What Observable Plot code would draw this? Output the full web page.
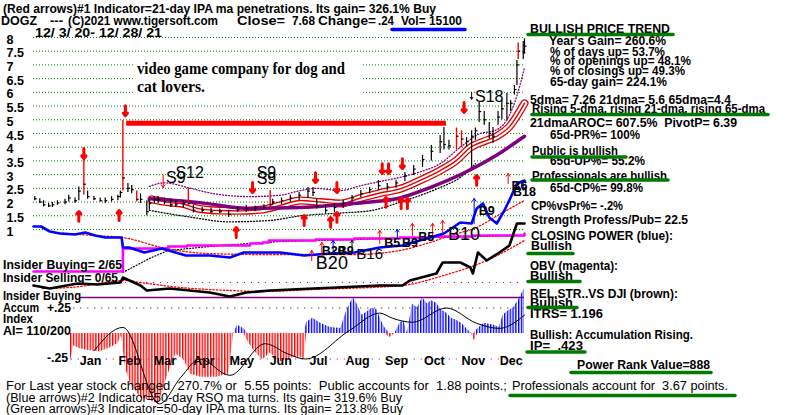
<!DOCTYPE html>
<html><head><meta charset="utf-8">
<script src="https://cdn.jsdelivr.net/npm/d3@7"></script>
<script src="https://cdn.jsdelivr.net/npm/@observablehq/plot@0.6"></script>
<style>
html,body{margin:0;padding:0;background:#fff;}
#chart{position:relative;width:800px;height:415px;overflow:hidden;background:#fff;}
#chart svg{position:absolute;left:0;top:0;overflow:visible;}
</style></head>
<body><div id="chart"></div>
<script>
// ---------------- DATA ----------------
const priceDates = ["2020-12-04","2020-12-08","2020-12-11","2020-12-15","2020-12-18","2020-12-22","2020-12-28","2020-12-31",
"2021-01-05","2021-01-08","2021-01-12","2021-01-15","2021-01-20","2021-01-25","2021-01-29","2021-02-03","2021-02-08","2021-02-10",
"2021-02-12","2021-02-16","2021-02-19","2021-02-23","2021-02-26","2021-03-03","2021-03-05","2021-03-09","2021-03-12","2021-03-17",
"2021-03-22","2021-03-26","2021-04-01","2021-04-05","2021-04-09","2021-04-16","2021-04-23","2021-04-30","2021-05-07","2021-05-14",
"2021-05-21","2021-05-28","2021-06-04","2021-06-09","2021-06-11","2021-06-18","2021-06-25","2021-07-02","2021-07-09","2021-07-13",
"2021-07-16","2021-07-23","2021-07-30","2021-08-06","2021-08-13","2021-08-20","2021-08-27","2021-09-03","2021-09-10","2021-09-17",
"2021-09-24","2021-10-01","2021-10-08","2021-10-15","2021-10-22","2021-10-25","2021-10-29","2021-11-04","2021-11-08","2021-11-12",
"2021-11-16","2021-11-19","2021-11-22","2021-11-26","2021-11-30","2021-12-03","2021-12-07","2021-12-10","2021-12-14","2021-12-17",
"2021-12-20","2021-12-22","2021-12-23","2021-12-27","2021-12-28"];
const priceLow = [2.05,1.95,1.82,1.8,1.8,1.88,1.9,2.0,
1.95,2.05,2.25,2.1,2.05,2.0,1.95,2.0,2.05,2.15,
2.4,2.35,2.3,2.0,1.95,1.5,1.7,1.95,1.95,1.9,
1.8,1.8,1.78,1.85,1.6,1.6,1.58,1.58,1.44,1.62,
1.62,1.65,1.7,1.8,1.88,1.9,2.0,2.06,2.13,2.2,
1.75,1.58,1.62,1.77,2.0,2.17,2.3,2.42,2.4,2.5,
2.75,2.97,3.26,3.5,3.77,3.9,3.9,3.9,4.0,4.0,
3.26,4.25,4.9,4.8,4.3,4.14,4.8,5.0,5.0,5.3,
5.9,6.25,7.2,7.2,7.4];
const priceHigh = [2.2,2.12,2.05,1.95,1.98,2.05,2.1,2.25,
2.15,2.55,3.63,2.4,2.2,2.15,2.15,2.2,2.25,2.4,
4.97,2.68,2.6,2.4,2.3,2.05,2.05,2.2,2.2,2.15,
2.1,2.05,2.05,2.5,1.88,1.8,1.78,1.75,1.7,1.8,
1.88,1.85,1.9,2.42,2.1,2.15,2.25,2.35,2.53,2.53,
2.1,1.9,1.95,2.06,2.24,2.42,2.53,2.79,2.68,2.8,
3.08,3.33,3.7,4.06,4.43,4.72,4.25,4.7,4.6,4.35,
4.6,4.7,5.63,5.3,4.9,4.72,5.3,5.7,5.96,5.7,
6.25,7.16,7.8,7.85,7.95];
const priceClose = [2.12,2.0,1.9,1.86,1.9,1.97,2.0,2.15,
2.05,2.4,2.65,2.2,2.12,2.05,2.05,2.1,2.2,2.35,
2.88,2.5,2.45,2.1,2.1,1.65,1.95,2.1,2.1,2.0,
1.9,1.9,1.95,1.95,1.7,1.7,1.65,1.65,1.55,1.72,
1.75,1.78,1.8,1.9,2.0,2.05,2.15,2.25,2.4,2.35,
1.85,1.7,1.8,1.95,2.15,2.3,2.45,2.6,2.55,2.7,
2.95,3.2,3.55,3.85,4.2,4.1,4.05,4.4,4.3,4.2,
4.4,4.6,5.3,5.0,4.5,4.4,5.1,5.4,5.6,5.6,
6.1,7.0,7.5,7.44,7.68];
const redBarDates = ["2021-01-12","2021-02-12","2021-02-23","2021-04-05","2021-06-09","2021-11-04","2021-11-08","2021-12-23"];

const priceTicks = [1,1.5,2,2.5,3,3.5,4,4.5,5,5.5,6,6.5,7,7.5,8];
const priceTickLabels = ["1","1.5","2","2.5","3","3.5","4","4.5","5","5.5","6","6.5","7","7.5","8"];

const ma21Dates = ["2021-03-07","2021-03-22","2021-03-30","2021-04-14","2021-04-30","2021-05-16","2021-06-01","2021-06-17","2021-07-03","2021-07-19","2021-08-04","2021-08-20","2021-09-04","2021-09-20","2021-10-06","2021-10-22","2021-11-04","2021-11-15","2021-11-28","2021-12-06","2021-12-16","2021-12-28"];
const ma21Values = [2.1,1.98,1.95,1.75,1.69,1.68,1.72,1.88,2.06,2.0,1.95,2.15,2.33,2.48,2.79,3.15,3.52,3.99,4.25,4.4,4.75,5.6];
const ma65Dates = ["2021-03-05","2021-04-14","2021-05-24","2021-07-03","2021-07-29","2021-08-25","2021-09-20","2021-10-14","2021-11-09","2021-12-03","2021-12-28"];
const ma65Values = [2.12,1.98,1.77,1.8,1.88,1.99,2.15,2.53,3.04,3.63,4.4];
const upperBandDates = ["2021-03-05","2021-03-17","2021-04-07","2021-04-26","2021-05-24","2021-06-17","2021-07-03","2021-07-15","2021-08-04","2021-08-20","2021-09-04","2021-09-20","2021-10-06","2021-10-22","2021-11-07","2021-11-23","2021-12-04","2021-12-12","2021-12-20","2021-12-28"];
const upperBandValues = [2.57,2.7,2.5,2.3,2.2,2.25,2.42,2.5,2.42,2.6,2.75,2.9,3.1,3.4,4.0,4.5,4.6,4.87,5.6,6.9];
const lowerBandDates = ["2021-03-05","2021-04-07","2021-05-07","2021-06-09","2021-07-03","2021-08-04","2021-08-28","2021-09-20","2021-10-06","2021-10-22","2021-11-07","2021-11-19"];
const lowerBandValues = [1.7,1.45,1.28,1.33,1.5,1.6,1.69,1.99,2.24,2.53,2.9,3.4];
const resistance = [{start: "2021-02-15", end: "2021-10-27", level: 4.87}];

const redDownDates = ["2021-01-12","2021-02-14","2021-05-26","2021-07-15","2021-08-01","2021-09-06","2021-09-11","2021-09-22","2021-11-10"];
const redDownTips = [3.59,5.15,2.35,2.71,2.35,3.04,3.04,3.22,5.27];
const redUpDates = ["2021-01-08","2021-02-09","2021-05-13","2021-07-06","2021-07-27","2021-08-01","2021-09-09","2021-09-21","2021-09-26","2021-11-20"];
const redUpTips = [1.66,1.69,1.07,1.51,1.44,1.62,2.17,2.13,2.13,2.97];
const thinPriceArrowDates = ["2021-03-16","2021-12-15","2021-11-16"];
const thinPriceArrowFrom = [2.97,2.68,6.0];
const thinPriceArrowTo = [2.53,3.04,5.75];
const thinPriceArrowColor = ["red","red","black"];

const sellLabels = ["S9","S12","S9","S9","S18"];
const sellDates = ["2021-03-26","2021-04-06","2021-06-06","2021-06-06","2021-11-30"];
const sellLevels = [2.9,3.08,3.08,2.86,5.85];

// Closing power / OBV panel (relative units)
const cpDates = ["2020-12-03","2020-12-09","2020-12-16","2020-12-24","2021-01-05","2021-01-09","2021-01-13","2021-01-21","2021-01-29","2021-02-11","2021-02-12","2021-02-17","2021-03-01","2021-03-15","2021-04-03","2021-04-22","2021-05-08","2021-05-19","2021-06-03","2021-06-17","2021-07-06","2021-07-27","2021-08-15","2021-09-04","2021-09-22","2021-10-14","2021-10-25","2021-11-07","2021-11-16","2021-11-20","2021-11-25","2021-11-30","2021-12-06","2021-12-12","2021-12-17","2021-12-22","2021-12-28"];
const cpValues = [46,46,41,39,38,39,40,37,35,35,25,25,20,24,17,17,15,20,20,20,17,19,20,25,27,35,39,50,49,64,69,55,49,62,75,89,92];
const cpMaDates = ["2020-12-20","2021-01-20","2021-02-12","2021-03-15","2021-04-20","2021-06-01","2021-07-06","2021-08-15","2021-09-20","2021-10-14","2021-10-30","2021-11-20","2021-12-08","2021-12-28"];
const cpMaValues = [40,37,35,25,19,18,18,18,22,30,37,45,58,72];
const obvDates = ["2020-12-03","2021-02-11","2021-02-12","2021-03-20","2021-04-04","2021-05-24","2021-06-03","2021-06-08","2021-07-15","2021-08-15","2021-09-20","2021-10-14","2021-11-17","2021-12-28"];
const obvValues = [1,1,24,26,27,29,30,32,33,34,35,36,37,39];
const obvMaDates = ["2021-02-12","2021-03-05","2021-03-20","2021-04-30","2021-06-17","2021-08-15","2021-10-14","2021-12-28"];
const obvMaValues = [0,14,22,27,31,33,35,37];

const thinRedDates = ["2021-07-12","2021-07-20","2021-09-04","2021-09-30","2021-10-16","2021-10-24"];
const thinRedFrom = [12,17,29,37,37,39];
const thinRedTo = [22,30,42,49,49,52];
const thinBlueDates = ["2021-07-29","2021-09-18","2021-11-18","2021-12-27"];
const thinBlueFrom = [19,34,49,82];
const thinBlueTo = [32,43,74,92];
const thinBlackDates = ["2021-08-13"];
const thinBlackFrom = [25];
const thinBlackTo = [32];

const buyLabels = ["B20","B20","B9","B16","B5","B9","B5","B10","B9","B6","B18"];
const buyDates = ["2021-07-28","2021-07-29","2021-08-08","2021-08-27","2021-09-14","2021-09-28","2021-10-11","2021-11-10","2021-11-28","2021-12-24","2021-12-28"];
const buyLevels = [9,22,22,18,30,30,36,38,62,87,81];
const buySizes = ["big","small","small","mid","small","small","small","big","small","small","small"];

// Relative strength panel (relative units)
const rsDates = ["2020-12-03","2020-12-16","2021-01-07","2021-01-23","2021-02-10","2021-02-12","2021-02-26","2021-03-03","2021-03-21","2021-04-06","2021-04-22","2021-05-08","2021-05-21","2021-06-09","2021-07-13","2021-08-01","2021-09-04","2021-09-22","2021-09-28","2021-10-19","2021-10-24","2021-11-07","2021-11-15","2021-11-17","2021-11-21","2021-11-28","2021-12-08","2021-12-16","2021-12-22","2021-12-28"];
const rsValues = [15,12,17,16,18,23,15,10,12,10,8,4,8,10,12,13,15,15,20,27,38,38,33,27,48,40,48,55,77,77];
const rsMaDates = ["2020-12-10","2021-01-01","2021-02-14","2021-02-26","2021-03-30","2021-05-08","2021-06-03","2021-07-13","2021-09-22","2021-10-22","2021-11-28","2021-12-28"];
const rsMaValues = [12,13,20,18,13,10,9,11,15,24,40,60];
const rsLevels = [{level: 18, start: "2021-02-14", style: "dotted"}, {level: 3, start: "2021-01-09", style: "solid"}];

// Accumulation index
const aiDates = ["2021-01-01","2021-01-04","2021-01-09","2021-01-17","2021-01-25","2021-02-02","2021-02-08","2021-02-11","2021-02-14","2021-02-18","2021-02-26","2021-03-06","2021-03-12","2021-03-16","2021-03-19","2021-03-26","2021-04-01","2021-04-07","2021-04-15","2021-04-27","2021-05-07","2021-05-11","2021-05-14","2021-05-19","2021-05-22","2021-05-26","2021-06-03","2021-06-09","2021-06-17","2021-06-25","2021-07-03","2021-07-06","2021-07-08","2021-07-13","2021-07-19","2021-07-27","2021-08-04","2021-08-09","2021-08-14","2021-08-17","2021-08-21","2021-08-25","2021-08-29","2021-09-02","2021-09-05","2021-09-08","2021-09-12","2021-09-16","2021-09-20","2021-09-23","2021-09-26","2021-09-30","2021-10-04","2021-10-08","2021-10-12","2021-10-15","2021-10-19","2021-10-23","2021-10-27","2021-10-31","2021-11-04","2021-11-08","2021-11-12","2021-11-16","2021-11-18","2021-11-21","2021-11-26","2021-12-04","2021-12-08","2021-12-11","2021-12-15","2021-12-19","2021-12-23","2021-12-28"];
const aiValues = [-0.29,-0.12,-0.15,-0.17,-0.18,-0.14,-0.1,-0.02,-0.33,-0.49,-0.63,-0.66,-0.69,-0.56,-0.43,-0.2,-0.25,-0.4,-0.43,-0.43,-0.4,0.0,0.08,0.05,-0.07,-0.15,-0.26,-0.19,-0.28,-0.24,-0.23,-0.25,0.11,0.15,0.1,0.06,0.05,0.23,0.35,0.29,0.18,0.21,0.25,0.23,0.13,0.06,-0.04,0.0,0.1,0.13,0.0,0.29,0.25,0.35,0.29,0.32,0.3,0.23,0.2,0.15,0.13,0.1,0.05,0.0,-0.07,0.05,0.1,0.08,0.06,0.18,0.22,0.25,0.32,0.44];
const aiMaDates = ["2021-01-20","2021-02-12","2021-03-13","2021-03-30","2021-04-14","2021-05-08","2021-06-05","2021-06-23","2021-07-07","2021-08-11","2021-09-04","2021-09-14","2021-09-30","2021-10-27","2021-11-20","2021-12-08","2021-12-28"];
const aiMaValues = [-0.17,0.06,-0.69,-0.43,-0.25,-0.41,-0.1,-0.2,-0.25,0.03,0.2,0.15,0.11,0.25,0.1,0.05,0.18];
const aiLevels = [0.25, -0.25];

const monthTicks = ["2021-01-15","2021-02-15","2021-03-15","2021-04-15","2021-05-15","2021-06-15","2021-07-15","2021-08-15","2021-09-15","2021-10-15","2021-11-15","2021-12-15"];

// ---------------- BUILD ----------------
const P = d3.utcParse("%Y-%m-%d");
const FONT = "'Liberation Sans', Arial, sans-serif";
const W = 800, H = 415;
const xDomain = [P("2020-12-03"), P("2021-12-28")];
const redSet = new Set(redBarDates);
const price = priceDates.map((d, i) => ({date: P(d), low: priceLow[i], high: priceHigh[i], close: priceClose[i], red: redSet.has(d)}));
const series = (ds, vs) => ds.map((d, i) => ({date: P(d), v: vs[i]}));
const chart = document.getElementById("chart");

function panel(yDomain, top, bottom, marks) {
  const opts = {width: W, height: H, marginLeft: 33, marginRight: 276, marginTop: top, marginBottom: bottom,
    x: {type: "utc", domain: xDomain, axis: null}, marks};
  if (yDomain) opts.y = {domain: yDomain, axis: null};
  const svg = Plot.plot(opts);
  svg.style.background = "transparent";
  svg.style.position = "absolute";
  svg.style.left = "0px"; svg.style.top = "0px";
  svg.style.overflow = "visible";
  chart.appendChild(svg);
  return svg;
}

// Price panel: 1 -> y229, 8 -> y37
const ma21 = series(ma21Dates, ma21Values);
const downA = redDownDates.map((d, i) => ({date: P(d), tip: redDownTips[i]}));
const upA = redUpDates.map((d, i) => ({date: P(d), tip: redUpTips[i]}));
const thinP = thinPriceArrowDates.map((d, i) => ({date: P(d), from: thinPriceArrowFrom[i], to: thinPriceArrowTo[i], c: thinPriceArrowColor[i]}));
panel([1, 8], 37, H - 229, [
  Plot.ruleY(priceTicks, {y: d => d, stroke: "#008000", strokeWidth: 1, strokeDasharray: "1,2"}),
  Plot.text(priceTicks, {y: d => d, text: (d, i) => priceTickLabels[i], frameAnchor: "left", textAnchor: "start", dx: -27, dy: 2, fontSize: 12.5, fontWeight: "bold", fontFamily: FONT, fill: "#000"}),
  Plot.ruleY(resistance, {y: "level", x1: d => P(d.start), x2: d => P(d.end), stroke: "#ff0000", strokeWidth: 5}),
  Plot.line(series(upperBandDates, upperBandValues), {x: "date", y: "v", stroke: "#800080", strokeWidth: 1.3, strokeDasharray: "1,2", curve: "monotone-x"}),
  Plot.line(series(lowerBandDates, lowerBandValues), {x: "date", y: "v", stroke: "#000", strokeWidth: 1.3, strokeDasharray: "1,2", curve: "monotone-x"}),
  Plot.line(ma21, {x: "date", y: "v", stroke: "#e00000", strokeWidth: 8, curve: "monotone-x"}),
  Plot.line(ma21, {x: "date", y: "v", stroke: "#fff", strokeWidth: 5.4, curve: "monotone-x"}),
  Plot.line(ma21, {x: "date", y: "v", stroke: "#e00000", strokeWidth: 1.4, curve: "monotone-x"}),
  Plot.line(series(ma65Dates, ma65Values), {x: "date", y: "v", stroke: "#800080", strokeWidth: 3.5, curve: "monotone-x"}),
  Plot.ruleX(price.filter(d => !d.red), {x: "date", y1: "low", y2: "high", stroke: "#000", strokeWidth: 1.2}),
  Plot.ruleX(price.filter(d => d.red), {x: "date", y1: "low", y2: "high", stroke: "#ff0000", strokeWidth: 1.4}),
  Plot.ruleY(price, {y: "close", x1: "date", x2: d => d3.utcDay.offset(d.date, 2), stroke: "#000", strokeWidth: 1.2}),
  Plot.arrow(downA, {x1: "date", x2: "date", y1: d => d.tip + 0.36, y2: "tip", stroke: "#ff0000", strokeWidth: 3, headLength: 7, headAngle: 80}),
  Plot.arrow(upA, {x1: "date", x2: "date", y1: d => d.tip - 0.36, y2: "tip", stroke: "#ff0000", strokeWidth: 3, headLength: 7, headAngle: 80}),
  Plot.arrow(thinP.filter(d => d.c === "red"), {x1: "date", x2: "date", y1: "from", y2: "to", stroke: "#ff0000", strokeWidth: 1, headLength: 5, headAngle: 70}),
  Plot.arrow(thinP.filter(d => d.c === "black"), {x1: "date", x2: "date", y1: "from", y2: "to", stroke: "#000", strokeWidth: 1, headLength: 5, headAngle: 70}),
  Plot.text(sellLabels, {x: (d, i) => P(sellDates[i]), y: (d, i) => sellLevels[i], text: d => d, fontSize: 16, fontFamily: FONT, fill: "#000"})
]);

// Closing power / OBV panel: 0 -> y272, 100 -> y172
const mkThin = (ds, f, t) => ds.map((d, i) => ({date: P(d), from: f[i], to: t[i]}));
const buys = buyLabels.map((t, i) => ({t, date: P(buyDates[i]), v: buyLevels[i], s: buySizes[i]}));
panel([0, 100], 172, H - 272, [
  Plot.line(series(obvMaDates, obvMaValues), {x: "date", y: "v", stroke: "#000", strokeWidth: 1.2, strokeDasharray: "1,2"}),
  Plot.line(series(cpMaDates, cpMaValues), {x: "date", y: "v", stroke: "#ff0000", strokeWidth: 1.3, strokeDasharray: "1.5,2", curve: "monotone-x"}),
  Plot.line(series(obvDates, obvValues), {x: "date", y: "v", stroke: "#ff00ff", strokeWidth: 2.6, curve: "step-after"}),
  Plot.line(series(cpDates, cpValues), {x: "date", y: "v", stroke: "#0000ff", strokeWidth: 2.6}),
  Plot.arrow(mkThin(thinRedDates, thinRedFrom, thinRedTo), {x1: "date", x2: "date", y1: "from", y2: "to", stroke: "#ff0000", strokeWidth: 1, headLength: 5, headAngle: 70}),
  Plot.arrow(mkThin(thinBlueDates, thinBlueFrom, thinBlueTo), {x1: "date", x2: "date", y1: "from", y2: "to", stroke: "#0000ff", strokeWidth: 1, headLength: 5, headAngle: 70}),
  Plot.arrow(mkThin(thinBlackDates, thinBlackFrom, thinBlackTo), {x1: "date", x2: "date", y1: "from", y2: "to", stroke: "#000", strokeWidth: 1, headLength: 5, headAngle: 70}),
  Plot.text(buys.filter(d => d.s === "big"), {x: "date", y: "v", text: "t", fontSize: 18, fontFamily: FONT, fill: "#000"}),
  Plot.text(buys.filter(d => d.s === "mid"), {x: "date", y: "v", text: "t", fontSize: 15, fontFamily: FONT, fill: "#000"}),
  Plot.text(buys.filter(d => d.s === "small"), {x: "date", y: "v", text: "t", fontSize: 12.5, fontWeight: "bold", fontFamily: FONT, fill: "#000"})
]);

// Relative strength panel: 0 -> y300, 100 -> y200
panel([0, 100], 200, H - 300, [
  Plot.ruleY(rsLevels.filter(d => d.style === "dotted"), {y: "level", x1: d => P(d.start), x2: () => xDomain[1], stroke: "#800080", strokeWidth: 1.2, strokeDasharray: "1,6"}),
  Plot.ruleY(rsLevels.filter(d => d.style === "solid"), {y: "level", x1: d => P(d.start), x2: () => xDomain[1], stroke: "#800080", strokeWidth: 1.3}),
  Plot.line(series(rsMaDates, rsMaValues), {x: "date", y: "v", stroke: "#ff0000", strokeWidth: 1.3, strokeDasharray: "1.5,2", curve: "monotone-x"}),
  Plot.line(series(rsDates, rsValues), {x: "date", y: "v", stroke: "#000", strokeWidth: 2.6})
]);

// Accumulation index panel: 0 -> y333, 102px per unit
const ai = series(aiDates, aiValues);
const aiSvg = panel([-0.7, 0.6], 333 - 0.6 * 102, H - (333 + 0.7 * 102), [
  Plot.ruleY(aiLevels.filter(v => v > 0), {y: d => d, x1: () => P("2021-01-04"), x2: () => xDomain[1], stroke: "#000", strokeWidth: 1.2, strokeDasharray: "1,6"}),
  Plot.ruleY(aiLevels.filter(v => v < 0), {y: d => d, x1: () => P("2021-01-02"), x2: () => xDomain[1], stroke: "#800080", strokeWidth: 1.2, strokeDasharray: "1,6"}),
  Plot.areaY(ai, {x: "date", y: d => Math.min(0, d.v), fill: "url(#aiRed)"}),
  Plot.areaY(ai, {x: "date", y: d => Math.max(0, d.v), fill: "url(#aiBlue)"}),
  Plot.line(series(aiMaDates, aiMaValues), {x: "date", y: "v", stroke: "#000", strokeWidth: 1, curve: "monotone-x"})
]);
const defs = d3.select(aiSvg).insert("defs", ":first-child");
[["aiRed", "#ff0000"], ["aiBlue", "#0000ff"]].forEach(([id, c]) => {
  const p = defs.append("pattern").attr("id", id).attr("patternUnits", "userSpaceOnUse").attr("width", 2.8).attr("height", 10);
  p.append("rect").attr("x", 0).attr("y", 0).attr("width", 1.4).attr("height", 10).attr("fill", c);
});

// Month labels
panel(null, 0, H - 364, [
  Plot.text(monthTicks, {x: d => P(d), text: d => d3.utcFormat("%b")(P(d)), frameAnchor: "bottom", dx: 3, fontSize: 12.5, fontWeight: "bold", fontFamily: FONT, fill: "#000"})
]);

// ---------------- TEXT OVERLAY ----------------
const ov = d3.select(chart).append("svg").attr("width", W).attr("height", H)
  .style("position", "absolute").style("left", "0px").style("top", "0px").style("overflow", "visible");
ov.append("rect").attr("x", 135).attr("y", 57).attr("width", 226).attr("height", 39).attr("fill", "#fff");

const texts = [
  ["(Red arrows)#1 Indicator=21-day IPA ma penetrations. Its gain= 326.1% Buy", 3, 13, 12.5, "bold", 433],
  ["DOGZ", 1, 25, 12.5, "bold", 36], ["---", 50, 25, 12.5, "bold", 13], ["(C)2021 www.tigersoft.com", 68, 25, 12.5, "bold", 150],
  ["Close=", 237, 25, 12.5, "bold", 48], ["7.68", 292, 25, 12.5, "bold", 23], ["Change=", 318, 25, 12.5, "bold", 58],
  [".24", 378, 25, 12.5, "bold", 16], ["Vol= 15100", 401, 25, 12.5, "bold", 61],
  ["12/ 3/ 20- 12/ 28/ 21", 35, 37, 12, "bold", 127],
  ["BULLISH PRICE TREND", 530, 33, 12, "bold", 140],
  ["Year's Gain= 260.6%", 549, 45, 12, "bold", 117],
  ["% of days up= 53.7%", 550, 55.5, 12, "bold", 115],
  ["% of openings up= 48.1%", 550, 65, 12, "bold", 141],
  ["% of closings up= 49.3%", 550, 75, 12, "bold", 135],
  ["65-day gain= 224.1%", 550, 86, 12, "bold", 117],
  ["5dma= 7.26 21dma= 5.6 65dma=4.4", 530, 104, 12, "bold", 201],
  ["Rising 5-dma, rising 21-dma, rising 65-dma", 532, 113, 12, "bold", 233],
  ["21dmaAROC= 607.5%  PivotP= 6.39", 530, 126.5, 12, "bold", 207],
  ["65d-PR%= 100%", 550, 139, 12, "bold", 90],
  ["Public is bullish", 532, 154.5, 12, "bold", 86],
  ["65d-UP%= 55.2%", 550, 165, 12, "bold", 95],
  ["Professionals are bullish", 532, 180, 12, "bold", 135],
  ["65d-CP%= 99.8%", 550, 191.5, 12, "bold", 93],
  ["CP%vsPr%= -.2%", 531, 210, 12, "bold", 92],
  ["Strength Profess/Pub= 22.5", 531, 224, 12, "bold", 157],
  ["CLOSING POWER (blue):", 531, 240, 12, "bold", 142],
  ["Bullish", 531, 250, 12, "bold", 41],
  ["OBV (magenta):", 530, 270, 12, "bold", 88],
  ["Bullish", 530, 279.5, 12, "bold", 43],
  ["REL.STR..VS DJI (brown):", 530, 298, 12, "bold", 148],
  ["Bullish", 530, 307, 12, "bold", 43],
  ["ITRS= 1.196", 530, 318, 12, "bold", 73],
  ["Bullish: Accumulation Rising.", 530, 339, 12, "bold", 163],
  ["IP=  .423", 530, 350, 12, "bold", 53],
  ["Power Rank Value=888", 577, 369, 12, "bold", 133],
  ["Insider Buying= 2/65", 3, 269, 12, "bold", 119],
  ["Insider Selling= 0/65", 3, 282, 12, "bold", 115],
  ["Insider Buying", 3, 300, 12, "bold", 78],
  ["Accum", 3, 312, 12, "bold", 36], ["+.25", 47, 312, 12, "bold", 24],
  ["Index", 3, 323, 12, "bold", 30],
  ["AI= 110/200", 3, 335, 12, "bold", 68],
  ["-.25", 47, 362, 12, "bold", 21],
  ["For Last year stock changed  270.7% or  5.55 points:  Public accounts for  1.88 points.;", 6, 390, 12, "normal", 501],
  ["Professionals account for  3.67 points.", 512, 390, 12, "normal", 216],
  ["(Blue arrows)#2 Indicator=50-day RSQ ma turns. Its gain= 319.6% Buy", 6, 402, 12, "normal", 396],
  ["(Green arrows)#3 Indicator=50-day IPA ma turns. Its gain= 213.8% Buy", 6, 413, 12, "normal", 397]
];
texts.forEach(([t, x, y, s, w, len]) => {
  ov.append("text").attr("x", x).attr("y", y).attr("font-size", s).attr("font-weight", w)
    .attr("font-family", FONT).attr("fill", "#000").attr("xml:space", "preserve").style("white-space", "pre")
    .attr("textLength", len).attr("lengthAdjust", "spacingAndGlyphs").text(t);
});
[["video game company for dog and", 137, 74, 208], ["cat lovers.", 137, 92, 68]].forEach(([t, x, y, len]) => {
  ov.append("text").attr("x", x).attr("y", y).attr("font-size", 16).attr("font-weight", "bold")
    .attr("font-family", "'Liberation Serif', 'DejaVu Serif', serif").attr("fill", "#000")
    .attr("textLength", len).attr("lengthAdjust", "spacingAndGlyphs").text(t);
});
const underlines = [
  [528, 673, 34.5, "#007a00"], [532, 768, 114.5, "#007a00"], [532, 626, 157, "#007a00"], [532, 668, 180, "#007a00"],
  [528, 573, 253.5, "#007a00"], [528, 580, 281.5, "#007a00"], [528, 577, 307.5, "#007a00"], [527, 585, 352, "#007a00"],
  [571, 711, 372.5, "#007a00"], [510, 735, 395.5, "#007a00"], [392, 465, 29.5, "#0000ff"]
];
underlines.forEach(([x1, x2, y, c]) => {
  ov.append("line").attr("x1", x1).attr("x2", x2).attr("y1", y).attr("y2", y)
    .attr("stroke", c).attr("stroke-width", 3.5).attr("stroke-linecap", "round");
});
</script>
</body></html>
